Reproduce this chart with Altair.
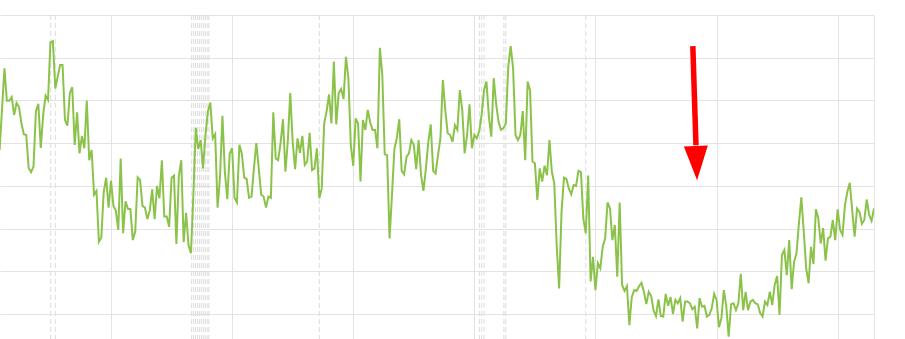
import altair as alt
import pandas as pd

# Day index (1 unit per daily observation) and series values
days = [4] + list(range(6, 366))
values = [
    48.4, 67.5, 59.9, 59.9, 60.8,
    56.6, 59.4, 58.5, 54.7, 52.1, 51.9, 44.2, 43.2, 44.5, 57.5,
    59.2, 48.9, 56.6, 61.1, 60.1, 73.6, 73.9, 62.8, 65.6, 68.3,
    68.3, 55.4, 54.1, 61.7, 63.1, 49.6, 57.2, 47.6, 51.7, 48.8,
    59.9, 46.0, 48.4, 37.9, 38.8, 26.9, 27.9, 38.6, 41.9, 34.9,
    41.2, 35.3, 34.2, 29.7, 46.4, 28.9, 36.4, 34.6, 34.6, 27.3,
    29.3, 42.0, 41.4, 35.3, 34.9, 32.2, 34.2, 39.2, 32.2, 40.0,
    37.1, 46.0, 32.8, 32.8, 30.4, 41.9, 42.4, 26.4, 42.3, 46.0,
    26.8, 33.7, 26.1, 24.2, 37.9, 53.6, 48.6, 50.7, 44.1, 51.9,
    57.4, 59.5, 51.1, 52.1, 34.9, 42.1, 56.4, 43.3, 36.9, 47.6,
    48.8, 37.2, 36.1, 49.6, 47.6, 41.9, 41.6, 37.2, 37.5, 44.1,
    50.0, 44.1, 37.9, 37.5, 34.9, 37.5, 37.2, 57.2, 46.4, 46.0,
    50.0, 55.6, 43.3, 50.5, 61.7, 50.3, 43.9, 51.1, 47.7, 51.7,
    44.9, 45.7, 52.4, 43.7, 44.1, 48.8, 37.1, 39.4, 54.6, 57.4,
    61.4, 54.6, 69.1, 54.4, 61.7, 62.7, 60.3, 70.2, 65.2, 49.6,
    44.7, 55.8, 54.6, 41.0, 55.4, 53.1, 57.8, 54.9, 53.1, 53.1,
    48.8, 72.3, 66.0, 47.4, 47.2, 27.7, 37.9, 48.6, 51.2, 55.6,
    43.5, 42.7, 46.8, 47.6, 50.7, 49.6, 43.9, 50.7, 42.5, 38.8,
    44.1, 50.3, 54.4, 43.5, 42.9, 47.2, 51.1, 64.8, 57.8, 52.3,
    51.9, 50.3, 54.2, 53.1, 62.4, 57.8, 47.6, 51.9, 59.1, 48.8,
    51.9, 51.1, 52.7, 56.6, 62.4, 64.4, 56.2, 51.5, 65.2, 59.2,
    55.0, 53.1, 53.5, 54.6, 67.9, 72.7, 67.5, 51.9, 50.7, 51.9,
    57.5, 46.0, 64.4, 62.4, 45.7, 45.3, 36.7, 44.1, 41.0, 44.7,
    42.5, 50.7, 43.3, 40.6, 26.1, 16.0, 33.9, 41.9, 41.6, 39.4,
    38.0, 40.2, 40.0, 43.5, 43.2, 32.4, 28.9, 42.4, 17.6, 23.4,
    15.6, 21.9, 20.7, 25.7, 27.7, 36.1, 34.7, 27.3, 30.8, 18.7,
    36.1, 16.8, 15.4, 16.5, 7.4, 14.0, 15.6, 15.4, 16.5, 17.3,
    15.2, 12.3, 15.2, 14.2, 10.8, 9.5, 13.4, 9.5, 9.4, 14.7,
    11.9, 14.0, 10.0, 13.3, 12.5, 13.7, 8.2, 12.9, 12.9, 12.5,
    11.1, 11.7, 6.6, 13.7, 11.7, 11.9, 9.4, 9.8, 11.3, 14.7,
    13.3, 6.9, 9.0, 15.6, 11.9, 4.7, 12.3, 12.5, 10.9, 12.5,
    19.4, 10.9, 15.2, 10.9, 12.9, 13.3, 12.5, 12.3, 10.2, 9.4,
    12.9, 12.1, 15.2, 12.1, 16.8, 18.9, 9.8, 23.8, 25.0, 19.1,
    27.3, 15.8, 22.2, 24.2, 31.2, 37.3, 29.3, 20.7, 17.2, 25.7,
    21.7, 34.5, 32.4, 26.5, 30.1, 22.5, 27.7, 28.1, 32.0, 27.3,
    34.5, 29.7, 28.5, 35.5, 38.6, 40.7, 34.3, 28.1, 34.7, 33.9,
    31.1, 32.0, 36.8, 33.2, 31.8, 34.7,
]
assert len(days) == len(values), (len(days), len(values))

# Event markers (dashed vertical lines), in day units
event_days = [25.1, 27.0, 83.3, 84.1, 84.9, 85.7, 86.5, 87.3, 88.1, 88.9,
              89.7, 90.4, 136.0, 202.1, 203.0, 204.0, 212.2, 213.0, 246.0]

# Grid values
x_grid = [50, 100, 150, 200, 250, 300, 350, 365]
y_grid = [10, 20, 30, 40, 50, 60, 70, 80]

# Red arrow annotation (shaft start/end, head centre)
arrow_shaft_x = [290.2, 291.5]
arrow_shaft_y = [72.7, 49.5]
arrow_head = [291.7, 45.4]

x_dom = [4.17, 365]
y_dom = [4.14, 80]

df = pd.DataFrame({"day": days, "value": values})
ev = pd.DataFrame({"day": event_days})
shaft = pd.DataFrame({"x": [arrow_shaft_x[0]], "x2": [arrow_shaft_x[1]],
                      "y": [arrow_shaft_y[0]], "y2": [arrow_shaft_y[1]]})
head = pd.DataFrame({"x": [arrow_head[0]], "y": [arrow_head[1]]})

xs = alt.Scale(domain=x_dom, nice=False, zero=False)
ys = alt.Scale(domain=y_dom, nice=False, zero=False)

x_axis = alt.Axis(values=x_grid, grid=True, gridColor="#e3e3e3", gridWidth=1,
                  labels=False, ticks=False, domain=False, title=None)
y_axis = alt.Axis(values=y_grid, grid=True, gridColor="#e3e3e3", gridWidth=1,
                  labels=False, ticks=False, domain=False, title=None)

events = alt.Chart(ev).mark_rule(color="#dcdcdc", strokeWidth=1, strokeDash=[5, 3]).encode(
    x=alt.X("day:Q", scale=xs, axis=x_axis),
)

line = alt.Chart(df).mark_line(color="#8bc34a", strokeWidth=2, clip=True).encode(
    x=alt.X("day:Q", scale=xs, axis=x_axis),
    y=alt.Y("value:Q", scale=ys, axis=y_axis),
)

arrow_line = alt.Chart(shaft).mark_rule(color="#ff0000", strokeWidth=5.5, strokeCap="butt").encode(
    x=alt.X("x:Q", scale=xs, axis=x_axis), x2="x2:Q",
    y=alt.Y("y:Q", scale=ys, axis=y_axis), y2="y2:Q",
)

arrow_tip = alt.Chart(head).mark_point(
    shape="M-1,-1.4L1,-1.4L0,1.45Z", size=576, filled=True,
    color="#ff0000", opacity=1, strokeWidth=0, angle=358,
).encode(
    x=alt.X("x:Q", scale=xs, axis=x_axis),
    y=alt.Y("y:Q", scale=ys, axis=y_axis),
)

chart = alt.layer(events, line, arrow_line, arrow_tip).properties(
    width=874, height=324,
    padding={"left": 0, "top": 15, "right": 31, "bottom": 0},
    autosize=alt.AutoSizeParams(type="none"),
    background="white",
).configure_view(strokeWidth=0)

chart.save("out.html", embed_options={"renderer": "svg", "actions": False})
